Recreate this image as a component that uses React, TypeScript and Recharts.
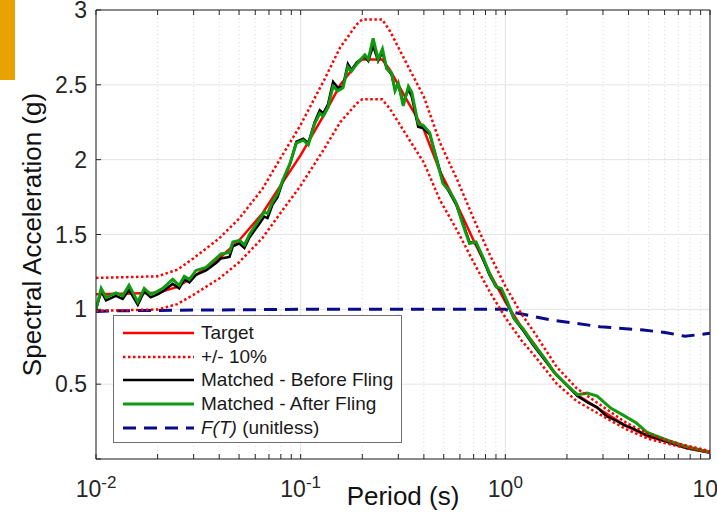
import React from 'react';
import { LineChart, Line, XAxis, YAxis, CartesianGrid, Legend } from 'recharts';

const FONT = '"Liberation Sans", Arial, Helvetica, sans-serif';

// Axis ticks
const xTicks = [
  0.01, 0.02, 0.03, 0.04, 0.05, 0.06, 0.07, 0.08, 0.09,
  0.1, 0.2, 0.3, 0.4, 0.5, 0.6, 0.7, 0.8, 0.9,
  1, 2, 3, 4, 5, 6, 7, 8, 9, 10,
];
const xMajor = [0.01, 0.1, 1, 10];
const xMajorExp = ['-2', '-1', '0', '1'];
const yTicks = [0, 0.5, 1, 1.5, 2, 2.5, 3];
const yTickLabels = ['', '0.5', '1', '1.5', '2', '2.5', '3'];

// Target spectrum and +/- 10% bounds
const targetT = [0.01, 0.015, 0.02, 0.025, 0.03, 0.04, 0.05, 0.065, 0.08, 0.1, 0.13, 0.156, 0.188, 0.2, 0.25, 0.273, 0.33, 0.4, 0.48, 0.58, 0.7, 0.84, 1.0, 1.2, 1.4, 1.78, 2.23, 2.9, 3.9, 5.0, 6.9, 10];
const targetSA = [1.10, 1.105, 1.11, 1.15, 1.22, 1.34, 1.46, 1.64, 1.83, 2.03, 2.30, 2.50, 2.64, 2.67, 2.67, 2.60, 2.40, 2.20, 1.92, 1.70, 1.46, 1.24, 1.05, 0.88, 0.76, 0.56, 0.43, 0.33, 0.22, 0.15, 0.095, 0.048];
const upperSA = [1.210, 1.216, 1.221, 1.265, 1.342, 1.474, 1.606, 1.804, 2.013, 2.233, 2.530, 2.750, 2.904, 2.937, 2.937, 2.860, 2.640, 2.420, 2.112, 1.870, 1.606, 1.364, 1.155, 0.968, 0.836, 0.616, 0.473, 0.363, 0.242, 0.165, 0.105, 0.053];
const lowerSA = [0.990, 0.995, 0.999, 1.035, 1.098, 1.206, 1.314, 1.476, 1.647, 1.827, 2.070, 2.250, 2.376, 2.403, 2.403, 2.340, 2.160, 1.980, 1.728, 1.530, 1.314, 1.116, 0.945, 0.792, 0.684, 0.504, 0.387, 0.297, 0.198, 0.135, 0.086, 0.043];

// Matched - Before Fling
const beforeT = [0.01, 0.0106, 0.0112, 0.0125, 0.0135, 0.0145, 0.016, 0.0172, 0.0185, 0.02, 0.0212, 0.0237, 0.0255, 0.027, 0.0286, 0.0308, 0.0345, 0.0386, 0.0408, 0.0449, 0.0466, 0.0502, 0.0531, 0.0562, 0.0627, 0.0664, 0.0689, 0.0729, 0.0771, 0.0816, 0.0887, 0.0953, 0.103, 0.109, 0.117, 0.124, 0.129, 0.136, 0.144, 0.152, 0.161, 0.17, 0.177, 0.188, 0.206, 0.214, 0.226, 0.239, 0.251, 0.263, 0.278, 0.289, 0.3, 0.317, 0.336, 0.349, 0.375, 0.397, 0.427, 0.461, 0.496, 0.534, 0.575, 0.619, 0.668, 0.719, 0.776, 0.837, 0.902, 0.956, 1.03, 1.1, 1.22, 1.37, 1.54, 1.73, 2.01, 2.25, 2.51, 2.81, 3.13, 3.5, 3.8, 4.2, 4.9, 6.13, 7.7, 10];
const beforeSA = [1.00, 1.12, 1.06, 1.09, 1.07, 1.13, 1.03, 1.12, 1.08, 1.10, 1.12, 1.17, 1.14, 1.20, 1.18, 1.23, 1.26, 1.31, 1.34, 1.35, 1.42, 1.44, 1.41, 1.48, 1.57, 1.62, 1.61, 1.70, 1.75, 1.85, 1.97, 2.12, 2.14, 2.11, 2.25, 2.33, 2.31, 2.37, 2.52, 2.48, 2.49, 2.64, 2.60, 2.65, 2.69, 2.66, 2.76, 2.66, 2.72, 2.61, 2.57, 2.47, 2.50, 2.38, 2.47, 2.42, 2.22, 2.21, 2.17, 2.01, 1.85, 1.78, 1.70, 1.58, 1.45, 1.44, 1.34, 1.23, 1.15, 1.13, 1.03, 0.94, 0.86, 0.76, 0.67, 0.58, 0.49, 0.42, 0.38, 0.345, 0.285, 0.255, 0.227, 0.205, 0.16, 0.116, 0.071, 0.042];

// Matched - After Fling
const afterT = [0.01, 0.0106, 0.0112, 0.0125, 0.0135, 0.0145, 0.016, 0.0172, 0.0185, 0.02, 0.0212, 0.0237, 0.0255, 0.027, 0.0286, 0.0308, 0.0345, 0.0386, 0.0408, 0.0449, 0.0466, 0.0502, 0.0531, 0.0562, 0.0627, 0.0664, 0.0689, 0.0729, 0.0771, 0.0816, 0.0887, 0.0953, 0.103, 0.109, 0.117, 0.124, 0.129, 0.136, 0.144, 0.152, 0.161, 0.17, 0.177, 0.188, 0.206, 0.214, 0.226, 0.239, 0.251, 0.263, 0.278, 0.289, 0.3, 0.317, 0.336, 0.349, 0.375, 0.397, 0.427, 0.461, 0.496, 0.534, 0.575, 0.619, 0.668, 0.719, 0.776, 0.837, 0.902, 0.956, 1.03, 1.1, 1.22, 1.37, 1.54, 1.73, 2.01, 2.25, 2.51, 2.81, 3.27, 3.8, 4.37, 4.9, 6.13, 7.7, 10];
const afterSA = [1.00, 1.14, 1.08, 1.11, 1.09, 1.16, 1.05, 1.14, 1.10, 1.12, 1.14, 1.20, 1.16, 1.22, 1.20, 1.26, 1.28, 1.34, 1.37, 1.38, 1.45, 1.46, 1.43, 1.50, 1.60, 1.65, 1.64, 1.72, 1.77, 1.86, 1.975, 2.11, 2.13, 2.10, 2.24, 2.31, 2.29, 2.35, 2.49, 2.46, 2.48, 2.62, 2.59, 2.64, 2.70, 2.67, 2.81, 2.67, 2.74, 2.61, 2.58, 2.46, 2.51, 2.36, 2.49, 2.45, 2.24, 2.23, 2.18, 2.00, 1.84, 1.79, 1.71, 1.57, 1.44, 1.45, 1.35, 1.24, 1.15, 1.14, 1.04, 0.94, 0.87, 0.77, 0.68, 0.58, 0.49, 0.43, 0.44, 0.42, 0.34, 0.29, 0.24, 0.18, 0.127, 0.082, 0.045];

// F(T) (unitless)
const fT = [0.01, 0.012, 0.03, 0.1, 0.5, 1.0, 1.1, 1.65, 2.9, 4.72, 6.13, 7.54, 10];
const fVal = [0.985, 0.99, 0.995, 1.0, 1.0, 1.0, 0.98, 0.93, 0.884, 0.862, 0.844, 0.82, 0.84];

const rows = (ts: number[], vs: number[]) => ts.map((t, i) => ({ t, sa: vs[i] }));
const targetData = rows(targetT, targetSA);
const upperData = rows(targetT, upperSA);
const lowerData = rows(targetT, lowerSA);
const beforeData = rows(beforeT, beforeSA);
const afterData = rows(afterT, afterSA);
const fData = rows(fT, fVal);

const C_RED = '#ff0000';
const C_GREEN = '#0f9a0f';
const C_BLACK = '#000000';
const C_BLUE = '#0a0a8c';
const AXIS = '#262626';

const legendItems = [
  { key: 'target', label: 'Target', color: C_RED, width: 2.5, dash: undefined as string | undefined },
  { key: 'bounds', label: '+/- 10%', color: C_RED, width: 2.5, dash: '2.5 2.5' },
  { key: 'before', label: 'Matched - Before Fling', color: C_BLACK, width: 2.5, dash: undefined },
  { key: 'after', label: 'Matched - After Fling', color: C_GREEN, width: 3, dash: undefined },
  { key: 'f', label: 'F(T)', color: C_BLUE, width: 3, dash: '13 8' },
];

const LegendBox = () => (
  <div
    style={{
      position: 'relative',
      width: 289,
      height: 128,
      border: '1px solid #707070',
      background: '#ffffff',
      boxSizing: 'border-box',
      fontFamily: FONT,
      fontSize: 19,
      color: '#1a1a1a',
    }}
  >
    {legendItems.map((it, i) => (
      <div
        key={it.key}
        style={{ position: 'absolute', left: 8, top: 5 + i * 23.7, height: 24, display: 'flex', alignItems: 'center' }}
      >
        <svg width={73} height={10} style={{ display: 'block' }}>
          <line x1={1} y1={5} x2={72} y2={5} stroke={it.color} strokeWidth={it.width} strokeDasharray={it.dash} />
        </svg>
        <span style={{ marginLeft: 6, whiteSpace: 'nowrap', lineHeight: '24px' }}>
          {it.key === 'f' ? (
            <>
              <i>F(T)</i> (unitless)
            </>
          ) : (
            it.label
          )}
        </span>
      </div>
    ))}
  </div>
);

const XTick = (props: any) => {
  const { x, y, payload } = props;
  const idx = xMajor.findIndex((m) => Math.abs(m - payload.value) < m * 1e-6);
  if (idx < 0) return <g />;
  return (
    <text x={x} y={y} dy={17} textAnchor="middle" fontSize={23} fill={AXIS} fontFamily={FONT}>
      10
      <tspan dy={-9} fontSize={17}>
        {xMajorExp[idx]}
      </tspan>
    </text>
  );
};

const Empty = () => <g />;

export default function App() {
  return (
    <div style={{ position: 'absolute', left: 0, top: 0, width: 717, height: 514, background: '#fff', fontFamily: FONT }}>
      <div style={{ position: 'absolute', left: 0, top: 0, width: 15, height: 80, background: '#e8a300' }} />
      <LineChart width={717} height={514} margin={{ top: 9, right: 6, left: 36, bottom: 0 }}>
        <CartesianGrid xAxisId="b" yAxisId="l" horizontal={false} stroke="#d6d6d6" strokeDasharray="1 3" />
        <CartesianGrid xAxisId="b" yAxisId="l" verticalValues={xMajor} stroke="#e4e4e4" />
        <XAxis
          xAxisId="b"
          dataKey="t"
          type="number"
          scale="log"
          domain={[0.01, 10]}
          allowDataOverflow
          ticks={xTicks}
          interval={0}
          height={55}
          tickSize={-5}
          tickMargin={26}
          stroke={AXIS}
          tick={<XTick />}
          label={{
            content: (p: any) => {
              const vb = p.viewBox || { x: 96, width: 614 };
              return (
                <text x={vb.x + vb.width / 2} y={505} textAnchor="middle" fontSize={26} fill="#111" fontFamily={FONT}>
                  Period (s)
                </text>
              );
            },
          }}
        />
        <XAxis
          xAxisId="t"
          orientation="top"
          dataKey="t"
          type="number"
          scale="log"
          domain={[0.01, 10]}
          allowDataOverflow
          ticks={xTicks}
          interval={0}
          height={1}
          tickSize={-5}
          stroke={AXIS}
          tick={<Empty />}
        />
        <YAxis
          yAxisId="l"
          type="number"
          domain={[0, 3]}
          ticks={yTicks}
          interval={0}
          width={60}
          tickSize={-5}
          tickMargin={14}
          stroke={AXIS}
          tickFormatter={(v: number) => yTickLabels[yTicks.indexOf(v)] ?? ''}
          tick={{ fill: AXIS, fontSize: 23, fontFamily: FONT }}
          label={{
            content: (p: any) => {
              const vb = p.viewBox || { y: 10, height: 449 };
              const cy = vb.y + vb.height / 2;
              return (
                <text
                  x={41}
                  y={cy}
                  transform={`rotate(-90, 41, ${cy})`}
                  textAnchor="middle"
                  fontSize={26}
                  fill="#111"
                  fontFamily={FONT}
                >
                  Spectral Acceleration (g)
                </text>
              );
            },
          }}
        />
        <YAxis
          yAxisId="r"
          orientation="right"
          type="number"
          domain={[0, 3]}
          ticks={yTicks}
          interval={0}
          width={1}
          tickSize={-5}
          stroke={AXIS}
          tick={<Empty />}
        />
        <Legend
          layout="vertical"
          align="center"
          verticalAlign="middle"
          content={() => <LegendBox />}
          wrapperStyle={{ left: 113, top: 315, width: 289, height: 128 }}
        />
        <Line xAxisId="b" yAxisId="l" data={fData} dataKey="sa" type="linear" stroke={C_BLUE} strokeWidth={3} strokeDasharray="13 8" dot={false} isAnimationActive={false} legendType="none" />
        <Line xAxisId="b" yAxisId="l" data={targetData} dataKey="sa" type="linear" stroke={C_RED} strokeWidth={2.5} dot={false} isAnimationActive={false} />
        <Line xAxisId="b" yAxisId="l" data={beforeData} dataKey="sa" type="linear" stroke={C_BLACK} strokeWidth={2.5} dot={false} isAnimationActive={false} />
        <Line xAxisId="b" yAxisId="l" data={afterData} dataKey="sa" type="linear" stroke={C_GREEN} strokeWidth={3} dot={false} isAnimationActive={false} />
        <Line xAxisId="b" yAxisId="l" data={upperData} dataKey="sa" type="linear" stroke={C_RED} strokeWidth={2.5} strokeDasharray="2.5 2.5" dot={false} isAnimationActive={false} />
        <Line xAxisId="b" yAxisId="l" data={lowerData} dataKey="sa" type="linear" stroke={C_RED} strokeWidth={2.5} strokeDasharray="2.5 2.5" dot={false} isAnimationActive={false} />
      </LineChart>
    </div>
  );
}
